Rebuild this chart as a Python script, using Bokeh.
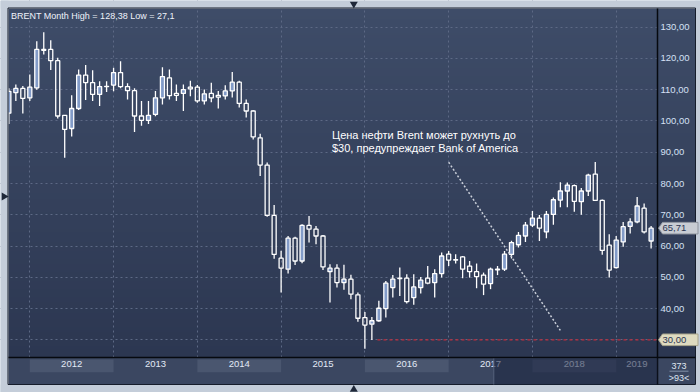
import numpy as np
from bokeh.plotting import figure
from bokeh.models import Range1d, FixedTicker, Label, ColumnDataSource
from bokeh.core.properties import value
from bokeh.embed import file_html
from bokeh.resources import INLINE

# ---------------- data (monthly Brent candles, Oct 2011 .. Jun 2019) ----------------
first_month = (2011, 10)
opens = [102.5, 109.1, 110.4, 107.4, 110.6, 122.9, 122.9, 119.3, 101.8, 97.6, 104.0, 114.7,
         112.3, 108.5, 111.0, 111.5, 115.5, 111.0, 109.7, 101.6, 100.2, 102.1, 107.4, 113.8,
         108.8, 108.8, 110.8, 110.8, 106.4, 108.8, 108.2, 108.0, 109.6, 112.4, 105.6, 103.2,
         94.6, 85.9, 69.8, 56.1, 52.6, 62.5, 55.2, 66.6, 65.4, 63.2, 51.8, 52.9,
         48.3, 49.4, 44.4, 37.1, 35.0, 36.1, 40.0, 46.7, 49.6, 49.7, 43.5, 46.7,
         49.7, 48.3, 51.2, 57.4, 55.5, 56.5, 53.6, 51.8, 50.7, 48.0, 52.6, 52.6,
         57.3, 60.4, 63.2, 66.7, 68.9, 64.5, 70.1, 74.7, 77.6, 79.3, 74.2, 77.6,
         83.0, 74.6, 60.3, 53.1, 61.3, 66.3, 67.7, 72.1, 61.6]
highs = [110.5, 111.7, 111.2, 114.9, 125.5, 128.38, 125.8, 120.2, 101.9, 108.2, 116.5, 117.9,
         116.2, 112.7, 112.7, 117.0, 119.1, 112.1, 110.5, 106.4, 106.4, 109.6, 117.2, 116.5,
         111.7, 111.7, 112.9, 111.5, 110.1, 112.2, 109.6, 111.4, 115.7, 112.9, 106.9, 103.4,
         95.9, 86.7, 73.1, 58.5, 63.2, 63.0, 67.0, 69.6, 66.4, 63.5, 54.2, 54.2,
         54.0, 50.8, 45.1, 38.9, 37.3, 42.5, 48.8, 50.7, 53.1, 51.0, 51.0, 50.1,
         53.6, 52.6, 57.9, 58.4, 57.4, 56.8, 55.2, 54.4, 51.5, 53.1, 53.6, 58.4,
         61.7, 64.5, 67.7, 71.2, 69.9, 71.2, 75.5, 80.4, 80.3, 79.7, 78.6, 83.1,
         86.9, 74.9, 63.8, 63.2, 67.7, 68.9, 75.7, 73.6, 66.4]
lows = [99.0, 106.4, 102.4, 106.4, 110.0, 121.3, 116.3, 100.8, 88.2, 95.0, 103.5, 106.7,
        106.4, 104.8, 109.3, 109.5, 110.5, 106.9, 96.5, 98.5, 99.0, 101.5, 105.3, 106.9,
        106.4, 103.2, 107.9, 105.8, 105.3, 106.0, 104.0, 106.9, 107.5, 104.3, 101.1, 94.1,
        82.4, 69.4, 55.9, 45.1, 51.2, 53.9, 54.5, 61.1, 60.6, 52.3, 41.9, 46.7,
        46.0, 43.0, 35.8, 27.1, 29.9, 35.8, 37.1, 43.5, 44.0, 41.6, 41.2, 44.8,
        47.8, 43.5, 49.9, 53.6, 54.4, 49.7, 49.9, 46.5, 44.3, 46.2, 50.7, 52.0,
        56.0, 59.5, 61.3, 66.1, 61.6, 62.5, 66.8, 72.4, 72.4, 71.0, 70.0, 76.0,
        74.4, 57.2, 49.9, 52.8, 59.8, 64.0, 67.3, 64.0, 59.2]
closes = [109.5, 110.4, 107.2, 110.8, 122.9, 122.6, 119.3, 101.6, 97.3, 104.0, 114.7, 112.3,
          108.5, 111.0, 111.1, 115.5, 111.0, 109.7, 101.6, 100.2, 101.8, 107.4, 114.2, 108.1,
          108.2, 110.0, 110.3, 106.4, 108.7, 107.4, 107.6, 109.6, 112.4, 105.6, 103.2, 94.9,
          85.9, 69.8, 57.3, 52.9, 62.5, 55.2, 66.6, 65.4, 63.2, 53.3, 52.9, 48.3,
          49.4, 44.6, 36.9, 34.7, 36.1, 40.1, 48.1, 49.4, 49.7, 42.2, 46.9, 49.1,
          48.1, 51.2, 56.8, 55.5, 55.6, 52.6, 51.8, 50.2, 47.8, 52.6, 52.4, 57.4,
          61.1, 63.4, 66.7, 68.9, 65.7, 70.1, 74.8, 77.6, 79.5, 74.3, 77.6, 82.7,
          74.6, 58.6, 52.3, 61.9, 66.2, 67.7, 72.8, 64.5, 65.71]

price_ticks = [30, 40, 50, 60, 70, 80, 90, 100, 110, 120, 130]
alert_level = 30.0            # "$30" warning level (red dashed line)
alert_from_month = 52.8       # red line starts here (month index)
trend_x = [63.0, 79.0]        # dotted forecast line (month index)
trend_y = [86.8, 33.0]        # dotted forecast line (price)
note_lines = ["Цена нефти Brent может рухнуть до", "$30, предупреждает Bank of America"]
total_bars = 373

# ---------------- geometry (window pixels -> data units) ----------------
W, H = 700, 392
PX_M0, PX_PER_MONTH = 8.36, 6.981      # pixel of month index 0, pixels per month
PY_30, PX_PER_USD = 339.3, 3.126       # pixel of price 30, pixels per dollar
PL, PR, PT, PB = 8, 657, 8, 357        # plotting area
WR, WB = 695, 384                      # dark window right / bottom edge

def X(px):
    return (px - PX_M0) / PX_PER_MONTH

def Y(py):
    return 30 + (PY_30 - py) / PX_PER_USD

n = len(opens)
months = []
yy, mm = first_month
for i in range(n):
    months.append((yy, mm))
    mm += 1
    if mm > 12:
        mm = 1
        yy += 1

x = np.arange(n)
o = np.array(opens); c = np.array(closes); h = np.array(highs); l = np.array(lows)
top = np.maximum(o, c); bot = np.minimum(o, c)
up = c >= o

x_plot_end = X(PR)
year_starts = [i for i, (y_, m_) in enumerate(months) if m_ == 1]
year_mids, year_names = [], []
for i in year_starts:
    end = min(i + 12, x_plot_end)
    year_mids.append((i + end) / 2.0)
    year_names.append(str(months[i][0]))

FRAME = "#c4cdd9"
BAND = "#3b4761"
p = figure(width=W, height=H, x_range=Range1d(X(0), X(W)), y_range=Range1d(Y(H), Y(0)),
           y_axis_location="right", output_backend="svg", toolbar_location=None,
           min_border=0)
p.background_fill_color = FRAME
p.border_fill_color = FRAME
p.outline_line_color = None

# vertical gradient (plot area and price strip)
G = 128
img = np.empty((G, 1), dtype=np.uint32)
view = img.view(dtype=np.uint8).reshape((G, 1, 4))
c_bot = np.array([44, 55, 81]); c_top = np.array([62, 76, 104])
for r in range(G):
    t = r / (G - 1)
    view[r, 0, 0:3] = (c_bot + (c_top - c_bot) * t).round().astype(np.uint8)
    view[r, 0, 3] = 255
p.image_rgba(image=[img], x=X(PL), y=Y(PB), dw=X(PR) - X(PL), dh=Y(PT) - Y(PB), level="image")

# grid
p.xgrid.ticker = FixedTicker(ticks=year_starts)
p.ygrid.ticker = FixedTicker(ticks=price_ticks)
for g in (p.xgrid[0], p.ygrid[0]):
    g.grid_line_color = "#5d6985"
    g.grid_line_dash = "2 3"
    g.grid_line_width = 1

# axes, pinned to the edges of the plotting area
ya = p.yaxis[0]
xa = p.xaxis[0]
ya.fixed_location = X(PR)
xa.fixed_location = Y(PB)
ya.bounds = (Y(WB), Y(PT))
xa.bounds = (X(PL), X(WR))
ya.ticker = FixedTicker(ticks=[t for t in price_ticks if t != alert_level])
ya.major_label_overrides = {float(t): ("%.2f" % t).replace(".", ",") for t in price_ticks}
xa.ticker = FixedTicker(ticks=year_mids)
xa.major_label_overrides = {float(v): s for v, s in zip(year_mids, year_names)}
for ax in (ya, xa):
    ax.major_tick_line_color = None
    ax.major_tick_out = 0
    ax.major_tick_in = 0
    ax.minor_tick_line_color = None
    ax.minor_tick_out = 0
    ax.minor_tick_in = 0
    ax.axis_line_color = "#06090f"
    ax.axis_line_width = 1.5
    ax.major_label_standoff = 3
    ax.major_label_text_font = "Liberation Sans"
    ax.major_label_text_font_size = "9.5px"
ya.major_label_text_color = "#d5e0f4"
xa.major_label_text_color = "#e2e9f6"

# candles
src = ColumnDataSource(dict(x=x, top=top, bot=bot, high=h, low=l,
                            fa=np.where(up, 1.0, 0.0)))
p.segment(x0="x", y0="high", x1="x", y1="top", source=src, line_color="white", line_width=1.3)
p.segment(x0="x", y0="bot", x1="x", y1="low", source=src, line_color="white", line_width=1.3)
p.vbar(x="x", width=0.58, top="top", bottom="bot", source=src, fill_color="#829bc8",
       fill_alpha="fa", line_color="white", line_width=1.3)

# annotations in the plot
p.segment(x0=[alert_from_month], y0=[alert_level], x1=[x_plot_end], y1=[alert_level],
          line_color="#c02c3c", line_dash="3 3", line_width=1.2)
p.line(trend_x, trend_y, line_color="#c9ced8", line_dash="2 2", line_width=1.5)

# ---- window chrome (drawn above the grid) ----
p.image_rgba(image=[img], x=X(PR), y=Y(PB), dw=X(WR) - X(PR), dh=Y(PT) - Y(PB))
p.quad(left=[X(PL)], right=[X(WR)], bottom=[Y(WB)], top=[Y(PB)], fill_color=BAND, line_color=None)
box_l, box_r = [], []
for k, i in enumerate(year_starts):
    if k % 2 == 0:
        box_l.append(i); box_r.append(min(i + 12, x_plot_end))
p.quad(left=box_l, right=box_r, bottom=Y(371.7), top=Y(359), fill_color="#4a566f", line_color=None)
# light outer frame
p.quad(left=[X(0), X(WR), X(0), X(0)], right=[X(PL), X(W), X(W), X(W)],
       bottom=[Y(H), Y(H), Y(PT), Y(H)], top=[Y(0), Y(0), Y(0), Y(WB)],
       fill_color=FRAME, line_color=None)
p.quad(left=[X(PL - 0.5)], right=[X(WR)], bottom=[Y(WB)], top=[Y(PT - 0.5)],
       fill_alpha=0, line_color="#161d2b", line_width=1)
p.scatter(x=[X(353.3), X(353.3), X(3.5)], y=[Y(3.5), Y(389), Y(196)],
          marker=["inverted_triangle", "triangle", "triangle"], angle=[0, 0, -np.pi / 2],
          size=8, fill_color="#1f2839", line_color=None)
# bar counter in the corner
p.text(x=[X(678.5), X(678.5)], y=[Y(365), Y(377.5)], text=[str(total_bars), ">%d<" % n],
       text_align="center", text_baseline="middle", text_font=value("Liberation Sans"),
       text_font_size=value("9px"), text_color="#dfe6f2")
p.segment(x0=[X(669)], y0=[Y(370.7)], x1=[X(688)], y1=[Y(370.7)], line_color="#8391a8", line_width=1)

# scrolled (inactive) part of the time band
p.quad(left=[X(493.3)], right=[X(PR)], bottom=[Y(WB)], top=[Y(358)],
       fill_color="#1c2440", fill_alpha=0.55, line_color=None, level="overlay")
p.segment(x0=[X(493.3)], y0=[Y(WB)], x1=[X(493.3)], y1=[Y(358)], line_color="#56627c",
          line_width=1, level="overlay")

# price tags on the price strip
def tag(price):
    d = 5.8 / PX_PER_USD
    return ([X(658), X(662), X(697.5), X(697.5), X(662)],
            [price, price + d, price + d, price - d, price - d])

tx1, ty1 = tag(closes[-1])
tx2, ty2 = tag(alert_level)
p.patches(xs=[tx1, tx2], ys=[ty1, ty2], fill_color=["#c8ccd3", "#dedac0"],
          line_color=["#8e949e", "#a8a48c"], line_width=1, level="overlay")
p.text(x=[X(662), X(662)], y=[closes[-1], alert_level],
       text=[("%.2f" % closes[-1]).replace(".", ","), ("%.2f" % alert_level).replace(".", ",")],
       text_align="left", text_baseline="middle", text_font=value("Liberation Sans"),
       text_font_size=value("9.5px"), text_color="#2b3550", level="overlay")

title_txt = "BRENT Month High = %s Low = %s" % (str(max(highs)).replace(".", ","),
                                                 str(min(lows)).replace(".", ","))
p.add_layout(Label(x=X(10.5), y=Y(15), text=title_txt, text_font="Liberation Sans",
                   text_font_size="9px", text_color="#eef2fa", text_baseline="middle"))
for k, line in enumerate(note_lines):
    p.add_layout(Label(x=X(331.5), y=Y(134.3 + 13 * k), text=line,
                       text_font="Liberation Sans", text_font_size="11px",
                       text_color="#ffffff", text_baseline="middle"))

open("out.html", "w").write(file_html(p, INLINE))
